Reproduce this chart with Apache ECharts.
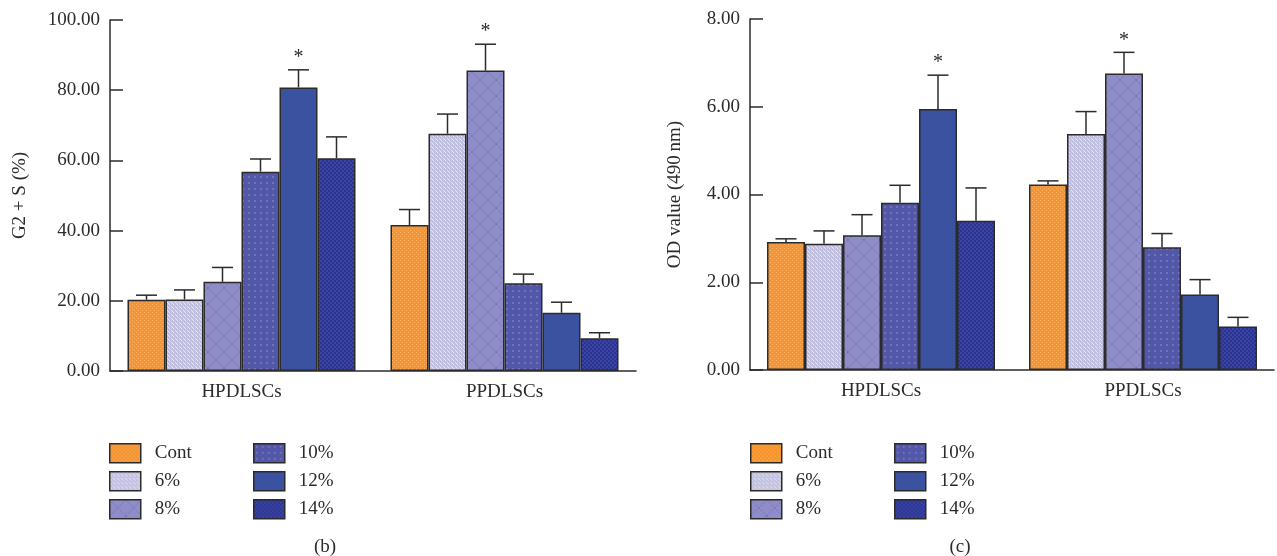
<!DOCTYPE html>
<html><head><meta charset="utf-8">
<script src="https://cdn.jsdelivr.net/npm/echarts@6/dist/echarts.min.js"></script>
<style>html,body{margin:0;padding:0;background:#fff}#c{width:1277px;height:556px}</style>
</head><body><div id="c"></div>
<script>
// ---------- data ----------
const categories = ['HPDLSCs', 'PPDLSCs'];
const groups = ['Cont', '6%', '8%', '10%', '12%', '14%'];
// Chart (b): G2 + S (%)  — per group: [HPDLSCs, PPDLSCs]
const bMean = {
  'Cont': [20.3, 41.6], '6%': [20.4, 67.6], '8%': [25.4, 85.6],
  '10%': [56.8, 25.0], '12%': [80.8, 16.6], '14%': [60.6, 9.3]
};
const bErrTop = {
  'Cont': [21.6, 46.0], '6%': [23.1, 73.2], '8%': [29.5, 93.1],
  '10%': [60.4, 27.6], '12%': [85.8, 19.6], '14%': [66.7, 10.9]
};
const bStars = [['12%', 0], ['8%', 1]];
const bTicks = [0, 20, 40, 60, 80, 100];
// Chart (c): OD value (490 nm)
const cMean = {
  'Cont': [2.92, 4.23], '6%': [2.88, 5.38], '8%': [3.07, 6.76],
  '10%': [3.81, 2.80], '12%': [5.95, 1.72], '14%': [3.40, 0.99]
};
const cErrTop = {
  'Cont': [2.99, 4.31], '6%': [3.17, 5.89], '8%': [3.54, 7.24],
  '10%': [4.21, 3.11], '12%': [6.72, 2.06], '14%': [4.15, 1.20]
};
const cStars = [['12%', 0], ['8%', 1]];
const cTicks = [0, 2, 4, 6, 8];

// ---------- patterns ----------
function tile(w, h, draw) {
  const cv = document.createElement('canvas'); cv.width = w; cv.height = h;
  const g = cv.getContext('2d'); draw(g, w, h); return cv;
}
const patterns = {
  'Cont': tile(4, 4, (g) => { g.fillStyle = '#F7952C'; g.fillRect(0,0,4,4); g.fillStyle = '#F9B06A'; g.fillRect(0,0,1,1); g.fillRect(2,2,1,1); }),
  '6%': tile(4, 4, (g) => { g.fillStyle = '#C3C1E2'; g.fillRect(0,0,4,4); g.fillStyle = '#E6E5F3'; g.fillRect(1,0,1,1); g.fillRect(3,2,1,1); g.fillRect(0,3,1,1); }),
  '8%': tile(16, 16, (g) => { g.fillStyle = '#8F8DC7'; g.fillRect(0,0,16,16); g.strokeStyle = '#7371BB'; g.lineWidth = 1; g.setLineDash([2,1.5]);
      g.beginPath(); g.moveTo(0,0); g.lineTo(16,16); g.moveTo(16,0); g.lineTo(0,16); g.stroke(); }),
  '10%': tile(6, 6, (g) => { g.fillStyle = '#5257A8'; g.fillRect(0,0,6,6); g.fillStyle = '#6E73BC'; g.fillRect(2,2,2,2); }),
  '12%': null,
  '14%': tile(4, 4, (g) => { g.fillStyle = '#2B3493'; g.fillRect(0,0,4,4); g.fillStyle = '#3A45A2'; g.fillRect(0,0,2,2); g.fillRect(2,2,2,2); })
};
const solid = { '12%': '#3B52A1' };
function fillOf(name) { return patterns[name] ? { image: patterns[name], repeat: 'repeat' } : solid[name]; }

// ---------- build ----------
const FONT = 'Liberation Serif';
const BAR_W = 38;
const series = [];
function addChart(ax, mean, errTop, stars) {
  groups.forEach((gname) => {
    series.push({
      name: gname, type: 'bar', xAxisIndex: ax, yAxisIndex: ax,
      barWidth: BAR_W, barGap: '0%', data: mean[gname],
      itemStyle: { color: fillOf(gname), borderColor: '#2b2b2b', borderWidth: 1.5 },
      z: 2
    });
  });
  const errData = [];
  groups.forEach((gname, gi) => {
    categories.forEach((c, ci) => {
      const star = stars.some(s => s[0] === gname && s[1] === ci) ? 1 : 0;
      errData.push([ci, gi, mean[gname][ci], errTop[gname][ci], star]);
    });
  });
  series.push({
    type: 'custom', xAxisIndex: ax, yAxisIndex: ax, data: errData, z: 1, silent: true,
    renderItem: function (params, api) {
      const ci = api.value(0), gi = api.value(1);
      const off = (gi - (groups.length - 1) / 2) * BAR_W;
      const p0 = api.coord([ci, api.value(2)]);
      const p1 = api.coord([ci, api.value(3)]);
      const x = p0[0] + off;
      const st = { stroke: '#2b2b2b', lineWidth: 1.5 };
      const ch = [
        { type: 'line', shape: { x1: x, y1: p0[1], x2: x, y2: p1[1] }, style: st },
        { type: 'line', shape: { x1: x - 10.5, y1: p1[1], x2: x + 10.5, y2: p1[1] }, style: st }
      ];
      if (api.value(4)) {
        ch.push({ type: 'text', style: { text: '*', x: x, y: p1[1] - 2, textAlign: 'center', textVerticalAlign: 'bottom',
          font: '20px "' + FONT + '"', fill: '#2b2b2b' } });
      }
      return { type: 'group', children: ch };
    }
  });
}
addChart(0, bMean, bErrTop, bStars);
addChart(1, cMean, cErrTop, cStars);

function yAxis(gi, ticks, name, gap) {
  return {
    type: 'value', gridIndex: gi, min: ticks[0], max: ticks[ticks.length - 1], interval: ticks[1] - ticks[0],
    name: name, nameLocation: 'middle', nameGap: gap, nameRotate: 90,
    nameTextStyle: { fontFamily: FONT, fontSize: 19, color: '#2b2b2b' },
    axisLine: { show: true, lineStyle: { color: '#2b2b2b', width: 1.5 } },
    axisTick: { show: true, inside: true, length: 13, lineStyle: { color: '#2b2b2b', width: 1.5 } },
    axisLabel: { margin: 10, fontFamily: FONT, fontSize: 19, color: '#2b2b2b', formatter: v => v.toFixed(2) },
    splitLine: { show: false }
  };
}
function xAxis(gi) {
  return {
    type: 'category', gridIndex: gi, data: categories,
    axisLine: { show: true, lineStyle: { color: '#2b2b2b', width: 1.5 } },
    axisTick: { show: false },
    axisLabel: { margin: 12, fontFamily: FONT, fontSize: 19, color: '#2b2b2b' }
  };
}
function legend(left, names) {
  return {
    orient: 'vertical', left: left, top: 443, padding: 0, icon: 'rect',
    itemWidth: 31, itemHeight: 19, itemGap: 7.5,
    data: names, selectedMode: false,
    itemStyle: { borderColor: '#2b2b2b', borderWidth: 1.5 },
    textStyle: { fontFamily: FONT, fontSize: 19, color: '#2b2b2b', padding: [0, 0, 0, 9] }
  };
}

const chart = echarts.init(document.getElementById('c'), null, { renderer: 'canvas' });
chart.setOption({
  animation: false,
  backgroundColor: '#fff',
  title: [
    { text: '(b)', left: 320, top: 533, textAlign: 'center', textStyle: { fontFamily: FONT, fontSize: 19, fontWeight: 'normal', color: '#2b2b2b' } },
    { text: '(c)', left: 955, top: 533, textAlign: 'center', textStyle: { fontFamily: FONT, fontSize: 19, fontWeight: 'normal', color: '#2b2b2b' } }
  ],
  grid: [
    { left: 110, right: 641, top: 20, bottom: 185 },
    { left: 750, right: 3, top: 19, bottom: 186 }
  ],
  xAxis: [xAxis(0), xAxis(1)],
  yAxis: [yAxis(0, bTicks, 'G2 + S (%)', 80), yAxis(1, cTicks, 'OD value (490\u2009nm)', 65)],
  legend: [
    legend(109, ['Cont', '6%', '8%']), legend(253, ['10%', '12%', '14%']),
    legend(750, ['Cont', '6%', '8%']), legend(894, ['10%', '12%', '14%'])
  ],
  series: series
});
</script></body></html>
